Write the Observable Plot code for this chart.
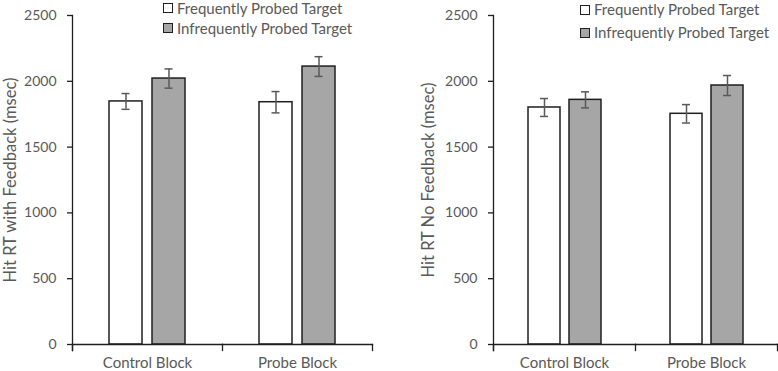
<!DOCTYPE html>
<html>
<head>
<meta charset="utf-8">
<script src="https://cdn.jsdelivr.net/npm/d3@7"></script>
<script src="https://cdn.jsdelivr.net/npm/@observablehq/plot@0.6"></script>
<style>
  body { margin: 0; background: #fff; }
  #wrap { position: relative; width: 778px; height: 371px; display: flex; font-family: Lato, sans-serif; }
  .panel { position: relative; width: 389px; height: 371px; }
  .legend { position: absolute; font-size: 15px; color: #595959; }
  .legend div { display: flex; align-items: center; white-space: nowrap; }
  .legend span.sw { display: inline-block; width: 8px; height: 8px; border: 1.5px solid #1f1f1f; margin-right: 4px; }
  [aria-label="y-axis label"] { font-size: 16.5px; }
</style>
</head>
<body>
<div id="wrap"></div>
<script>
const categories = ["Control Block", "Probe Block"];
const series = ["Frequently Probed Target", "Infrequently Probed Target"];
const seriesColors = ["#ffffff", "#a6a6a6"];
const yTicks = [0, 500, 1000, 1500, 2000, 2500];

// Panel 1: Hit RT with Feedback
const feedbackFrequent = [1847, 1841];
const feedbackFrequentErr = [60, 81];
const feedbackInfrequent = [2021, 2112];
const feedbackInfrequentErr = [73, 75];

// Panel 2: Hit RT No Feedback
const noFeedbackFrequent = [1801, 1753];
const noFeedbackFrequentErr = [68, 70];
const noFeedbackInfrequent = [1859, 1968];
const noFeedbackInfrequentErr = [61, 76];

function rows(freq, freqErr, infreq, infreqErr) {
  const out = [];
  categories.forEach((c, i) => {
    out.push({cat: c, series: series[0], value: freq[i], err: freqErr[i]});
    out.push({cat: c, series: series[1], value: infreq[i], err: infreqErr[i]});
  });
  return out;
}

function panel(data, opts) {
  const axisColor = "#1f1f1f";
  const textColor = "#595959";
  return Plot.plot({
    width: 389,
    height: 371,
    marginLeft: opts.marginLeft,
    marginRight: opts.marginRight,
    marginTop: 15,
    marginBottom: 27,
    style: {fontFamily: "Lato, sans-serif", fontSize: "14px", color: textColor, background: "#fff"},
    fx: {domain: categories, padding: 0, axis: null},
    x: {domain: series, paddingInner: opts.paddingInner, paddingOuter: opts.paddingOuter, axis: null},
    y: {domain: [0, 2500], axis: null},
    color: {domain: series, range: seriesColors},
    marks: [
      Plot.barY(data, {fx: "cat", x: "series", y: "value", fill: "series", stroke: axisColor, strokeWidth: 1.5}),
      Plot.ruleX(data, {fx: "cat", x: "series", y1: d => d.value - d.err, y2: d => d.value + d.err, stroke: "#595959", strokeWidth: 1.5}),
      Plot.tickY(data, {fx: "cat", x: "series", y: d => d.value - d.err, stroke: "#595959", strokeWidth: 1.5, insetLeft: opts.capInset, insetRight: opts.capInset}),
      Plot.tickY(data, {fx: "cat", x: "series", y: d => d.value + d.err, stroke: "#595959", strokeWidth: 1.5, insetLeft: opts.capInset, insetRight: opts.capInset}),
      Plot.frame({anchor: "bottom", stroke: axisColor, strokeWidth: 1.3}),
      Plot.frame({anchor: "left", facetAnchor: "left", stroke: axisColor, strokeWidth: 1.3, insetBottom: -6}),
      Plot.frame({anchor: "left", stroke: axisColor, strokeWidth: 1.3, insetTop: 329, insetBottom: -6}),
      Plot.frame({anchor: "right", facetAnchor: "right", stroke: axisColor, strokeWidth: 1.3, insetTop: 329, insetBottom: -6}),
      Plot.axisY({ticks: yTicks, tickSize: 5, tickPadding: 11, stroke: axisColor, strokeWidth: 1.3, fill: textColor, fontSize: 14,
        label: opts.label, labelAnchor: "center", labelArrow: "none", labelOffset: opts.labelOffset, tickFormat: d => String(d)}),
      Plot.axisFx({anchor: "bottom", tickSize: 0, tickPadding: 13, fill: textColor, fontSize: 15, label: null})
    ]
  });
}

function legend(left, top, gap) {
  const el = document.createElement("div");
  el.className = "legend";
  el.style.left = left + "px";
  el.style.top = top + "px";
  el.style.lineHeight = gap + "px";
  series.forEach((s, i) => {
    const row = document.createElement("div");
    const sw = document.createElement("span");
    sw.className = "sw";
    sw.style.background = seriesColors[i];
    row.appendChild(sw);
    row.appendChild(document.createTextNode(s));
    el.appendChild(row);
  });
  return el;
}

const wrap = document.getElementById("wrap");

const p1 = document.createElement("div");
p1.className = "panel";
p1.appendChild(panel(rows(feedbackFrequent, feedbackFrequentErr, feedbackInfrequent, feedbackInfrequentErr), {
  marginLeft: 72, marginRight: 17, paddingInner: 0.2326, paddingOuter: 0.86, capInset: 12.5,
  label: "Hit RT with Feedback (msec)", labelOffset: 68
}));
p1.appendChild(legend(163, -2, 20));
wrap.appendChild(p1);

const p2 = document.createElement("div");
p2.className = "panel";
p2.appendChild(panel(rows(noFeedbackFrequent, noFeedbackFrequentErr, noFeedbackInfrequent, noFeedbackInfrequentErr), {
  marginLeft: 103, marginRight: 1, paddingInner: 0.22, paddingOuter: 0.82, capInset: 12,
  label: "Hit RT No Feedback (msec)", labelOffset: 71
}));
p2.appendChild(legend(191, -2, 23));
wrap.appendChild(p2);
</script>
</body>
</html>
